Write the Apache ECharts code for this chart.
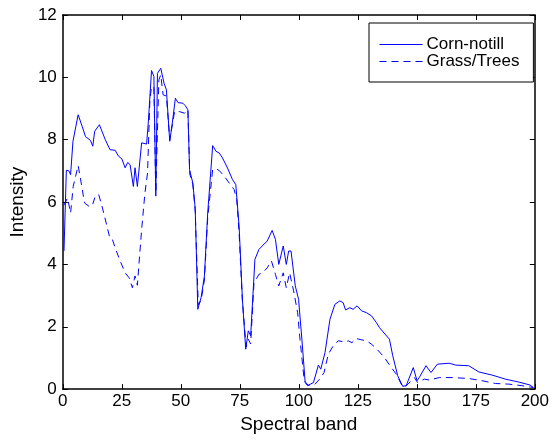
<!DOCTYPE html>
<html><head><meta charset="utf-8">
<script src="https://cdn.jsdelivr.net/npm/echarts@6/dist/echarts.min.js"></script>
<style>html,body{margin:0;padding:0;background:#fff}#c{width:552px;height:439px}</style>
</head><body><div id="c"></div>
<script>
const xTicks = [0, 25, 50, 75, 100, 125, 150, 175, 200];
const yTicks = [0, 2, 4, 6, 8, 10, 12];
const seriesNames = ['Corn-notill', 'Grass/Trees'];

const cornBands = [0.5,1.5,2.6,3.3,4.3,6.5,8.2,9.6,11.7,12.7,13.5,15.5,18,20,22.2,23.6,25,26.4,27.5,28.5,29.9,30.6,31.6,33.4,35.5,36.2,37.6,38.6,39.4,40.1,41.5,42.9,43.9,45.3,46.3,47.7,48.8,50.9,51.9,53,53.7,55.1,56.1,57.2,58.6,60,61.4,63.5,64.9,66.3,67.7,69.8,71.9,73.3,74.7,76.1,77.5,78.6,79.6,81.4,83.1,84.5,86.6,88.7,90.1,91.5,93.4,94.7,95.7,96.7,98.5,99.9,101.3,102.7,103.7,106.2,108.3,109.3,111.1,113.2,115.3,117.4,118.8,119.8,121.6,123,124.7,126.6,128.7,130.8,132.9,134.2,138.4,139.8,141.9,144,145.5,148.5,150.1,151,153.9,156,158.7,163.7,166.5,172,176.3,181.9,187.5,193,198,199.4];
const cornValues = [4.43,7.02,7.0,6.88,7.95,8.8,8.43,8.1,7.98,7.79,8.27,8.48,8.0,7.68,7.66,7.47,7.39,7.1,7.27,7.2,6.5,7.1,6.5,7.9,7.86,8.53,10.22,10.03,6.19,10.13,10.29,9.81,9.6,7.95,8.48,9.33,9.19,9.17,9.09,8.96,7.04,6.61,5.8,2.56,2.94,3.63,5.65,7.81,7.63,7.57,7.41,7.09,6.72,6.56,5.23,2.88,1.28,1.87,1.71,4.16,4.48,4.59,4.75,5.09,4.8,4.0,4.59,4.0,4.43,4.43,3.31,2.88,1.6,0.21,0.11,0.21,0.77,0.64,1.17,2.24,2.72,2.83,2.77,2.54,2.61,2.56,2.67,2.51,2.45,2.35,2.13,1.97,1.6,1.07,0.43,0.09,0.11,0.69,0.27,0.37,0.75,0.53,0.8,0.83,0.77,0.75,0.55,0.45,0.32,0.23,0.13,0.05];

const grassBands = [0.5,2,2.7,3.3,4.4,6.5,7.8,9.2,11,12.4,13.8,15.2,16.6,18.7,19.8,20.8,22.2,24.3,26.4,28.1,29.5,30.6,31.6,32.3,33.4,34.8,35.9,36.9,37.6,38.6,39.4,40.7,41.5,42.5,43.9,45.3,47.4,49.5,51.6,53,53.8,55.1,56.1,57.4,58.6,60,61.4,63.5,64.9,66.3,68.4,70.5,72.6,73.7,74.7,76.1,77.7,78.6,79.6,81,83.1,84.9,86.6,88.4,90.1,91.5,93.4,94.7,96.1,97.8,99.5,100.5,102.3,104,106.9,109,110.7,112.5,114.6,116.7,119.5,120.9,122.5,124.4,126.6,128.7,130.8,132.9,136.3,139.2,141.3,143.4,144.8,149,150.3,153.2,155.3,159.5,165,172,177.6,183.3,188.9,194.5,199.4];
const grassValues = [5.9,6.13,5.87,5.65,6.5,7.17,6.61,5.97,5.87,5.87,6.19,6.24,5.87,5.23,4.89,4.85,4.53,4.11,3.73,3.57,3.25,3.63,3.33,4.05,5.12,6.29,6.93,9.28,9.7,9.69,6.3,9.92,10.08,9.44,9.4,8.0,8.91,8.9,8.85,8.96,6.9,6.56,5.7,2.7,2.85,3.5,5.5,7.04,7.07,7.01,6.83,6.61,6.4,6.08,5.0,2.8,1.35,1.6,1.45,3.41,3.68,3.75,3.89,4.11,3.68,3.31,3.73,3.25,3.73,3.15,2.45,1.6,0.27,0.12,0.16,0.34,0.53,1.12,1.39,1.55,1.51,1.55,1.49,1.62,1.58,1.55,1.44,1.30,1.01,0.69,0.48,0.16,0.05,0.37,0.21,0.32,0.29,0.37,0.37,0.34,0.27,0.18,0.16,0.11,0.05];

const pairs = (xs, ys) => xs.map((x, i) => [x, ys[i]]);
const FONT = 'Liberation Sans';
const black = '#000';
const AXW = 1.5;

const chart = echarts.init(document.getElementById('c'), null, {renderer: 'canvas'});
const baseX = {type: 'value', min: xTicks[0], max: xTicks[xTicks.length-1], interval: 25};
const baseY = {type: 'value', min: yTicks[0], max: yTicks[yTicks.length-1], interval: 2};
const frame = {show: true, onZero: false, lineStyle: {color: black, width: AXW}};
const ticks = {show: true, inside: true, length: 5, lineStyle: {color: black, width: 1}};
chart.setOption({
  animation: false,
  backgroundColor: '#fff',
  grid: {left: 60, right: 16, top: 15, bottom: 49, containLabel: false},
  legend: {
    left: 369, top: 23, orient: 'vertical',
    padding: [13, 14, 12, 10], itemGap: 0, itemWidth: 43, itemHeight: 21,
    borderColor: black, borderWidth: 1, backgroundColor: '#fff',
    itemStyle: {color: 'rgba(0,0,0,0)', borderWidth: 0, opacity: 0},
    lineStyle: {width: 1},
    textStyle: {fontFamily: FONT, fontSize: 17, color: black, padding: [0, 0, 0, -1]},
    data: seriesNames
  },
  xAxis: [
    Object.assign({}, baseX, {
      position: 'bottom', name: 'Spectral band', nameLocation: 'middle', nameGap: 22,
      nameTextStyle: {fontFamily: FONT, fontSize: 19, color: black},
      axisLine: frame, axisTick: ticks,
      axisLabel: {fontFamily: FONT, fontSize: 17, color: black, margin: 4},
      splitLine: {show: false}
    }),
    Object.assign({}, baseX, {
      position: 'top', axisLine: frame, axisTick: ticks,
      axisLabel: {show: false}, splitLine: {show: false}
    })
  ],
  yAxis: [
    Object.assign({}, baseY, {
      position: 'left', name: 'Intensity', nameLocation: 'middle', nameGap: 33,
      nameTextStyle: {fontFamily: FONT, fontSize: 19, color: black},
      axisLine: frame, axisTick: ticks,
      axisLabel: {fontFamily: FONT, fontSize: 17, color: black, margin: 6},
      splitLine: {show: false}
    }),
    Object.assign({}, baseY, {
      position: 'right', axisLine: frame, axisTick: ticks,
      axisLabel: {show: false}, splitLine: {show: false}
    })
  ],
  series: [
    {name: seriesNames[0], type: 'line', xAxisIndex: 0, yAxisIndex: 0, showSymbol: false, symbol: 'none',
     lineStyle: {color: '#0000ff', width: 1, type: 'solid'}, itemStyle: {color: '#0000ff'},
     data: pairs(cornBands, cornValues)},
    {name: seriesNames[1], type: 'line', xAxisIndex: 0, yAxisIndex: 0, showSymbol: false, symbol: 'none',
     lineStyle: {color: '#0000ff', width: 1, type: [7, 5]}, itemStyle: {color: '#0000ff'},
     data: pairs(grassBands, grassValues)}
  ]
});
</script></body></html>
